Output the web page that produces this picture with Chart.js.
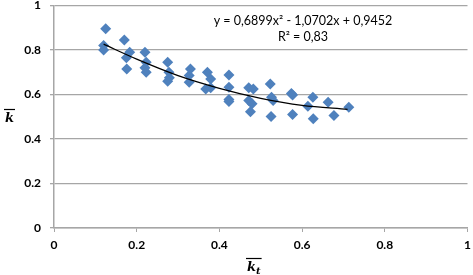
<!DOCTYPE html>
<html>
<head>
<meta charset="utf-8">
<script src="https://cdn.jsdelivr.net/npm/chart.js@4/dist/chart.umd.min.js"></script>
<style>
  html, body { margin: 0; padding: 0; background: #fff; }
</style>
</head>
<body>
<canvas id="chart-1" width="473" height="275"></canvas>
<script>
// observed points (kt mean, k mean)
var ktValues = [0.125, 0.12, 0.12, 0.17, 0.183, 0.175, 0.176, 0.22, 0.223, 0.22, 0.223,
    0.275, 0.278, 0.279, 0.275, 0.33, 0.327, 0.327, 0.371, 0.379, 0.367, 0.379,
    0.423, 0.423, 0.423, 0.423, 0.471, 0.482, 0.471, 0.479, 0.475,
    0.523, 0.526, 0.530, 0.525, 0.574, 0.577, 0.577, 0.626, 0.614, 0.627,
    0.663, 0.677, 0.713];
var kValues = [0.895, 0.82, 0.80, 0.845, 0.79, 0.765, 0.715, 0.79, 0.745, 0.72, 0.70,
    0.745, 0.70, 0.675, 0.66, 0.715, 0.685, 0.655, 0.70, 0.67, 0.625, 0.63,
    0.688, 0.633, 0.578, 0.568, 0.63, 0.625, 0.573, 0.558, 0.523,
    0.647, 0.588, 0.573, 0.501, 0.605, 0.598, 0.51, 0.588, 0.547, 0.491,
    0.565, 0.506, 0.543];

// trend line
var trendX = [0.12, 0.2, 0.3, 0.4, 0.5, 0.6, 0.71];
var trendY = [0.826, 0.759, 0.685, 0.628, 0.583, 0.551, 0.533];

var equationLines = ['y = 0,6899x\u00b2 - 1,0702x + 0,9452', 'R\u00b2 = 0,83'];
var axisTicks = [0, 0.2, 0.4, 0.6, 0.8, 1];

var scatterData = [], trendData = [];
ktValues.forEach(function (v, i) { scatterData.push({x: v, y: kValues[i]}); });
trendX.forEach(function (v, i) { trendData.push({x: v, y: trendY[i]}); });

var gridGray = '#a6a6a6';
var tickFont = { family: 'Lato, "Open Sans", sans-serif', size: 12, weight: 'bold' };

// draws the equation and the overlined axis titles
var labelsPlugin = {
    id: 'labels',
    afterDraw: function (chart) {
        var ctx = chart.ctx;
        ctx.save();
        ctx.fillStyle = '#000';
        ctx.font = '12.5px Lato, "Open Sans", sans-serif';
        ctx.textAlign = 'center';
        ctx.textBaseline = 'middle';
        ctx.fillText(equationLines[0], 303, 21);
        ctx.fillText(equationLines[1], 303, 37);

        // y title: k with bar
        ctx.font = 'bold italic 13px "DejaVu Serif", serif';
        ctx.textAlign = 'left';
        ctx.textBaseline = 'alphabetic';
        var yx = 5, yy = 122;
        ctx.fillText('k', yx, yy);
        var wk = ctx.measureText('k').width;
        ctx.strokeStyle = '#000';
        ctx.lineWidth = 1.2;
        ctx.beginPath();
        ctx.moveTo(yx - 1, yy - 12.5);
        ctx.lineTo(yx + wk + 1, yy - 12.5);
        ctx.stroke();

        // x title: k subscript t with bar
        var tx = 247, ty = 271;
        ctx.fillText('k', tx, ty);
        var wk2 = ctx.measureText('k').width;
        ctx.font = 'bold italic 10px "DejaVu Serif", serif';
        ctx.fillText('t', tx + wk2, ty + 3);
        var wt = ctx.measureText('t').width;
        ctx.beginPath();
        ctx.moveTo(tx - 1, ty - 12.5);
        ctx.lineTo(tx + wk2 + wt + 1, ty - 12.5);
        ctx.stroke();
        ctx.restore();
    }
};

function fixedTicks(scale) {
    scale.ticks = axisTicks.map(function (v) { return {value: v}; });
}

new Chart('chart-1', {
    type: 'scatter',
    data: {
        datasets: [{
            type: 'line',
            data: trendData,
            borderColor: '#000',
            borderWidth: 1.3,
            pointRadius: 0,
            cubicInterpolationMode: 'monotone',
            fill: false,
            order: 0
        }, {
            data: scatterData,
            backgroundColor: '#4f81bd',
            borderColor: '#4f81bd',
            pointStyle: 'rectRot',
            pointRadius: 5.5,
            borderWidth: 0,
            order: 1
        }]
    },
    options: {
        responsive: false,
        animation: false,
        devicePixelRatio: 1,
        layout: { padding: { top: 4.5, right: 3, left: 0, bottom: 0 } },
        plugins: {
            legend: { display: false },
            tooltip: { enabled: false }
        },
        scales: {
            x: {
                type: 'linear',
                min: 0,
                max: 1,
                afterBuildTicks: fixedTicks,
                afterFit: function (scale) {
                    scale.height = 47;
                    scale.paddingLeft = 0;
                    scale.paddingRight = 0;
                },
                grid: { drawOnChartArea: false, drawTicks: true, tickLength: 4, color: gridGray },
                border: { color: gridGray, width: 1.5 },
                ticks: {
                    color: '#000',
                    padding: 6,
                    maxRotation: 0,
                    font: tickFont,
                    callback: function (v) { return String(v); }
                }
            },
            y: {
                min: 0,
                max: 1,
                afterBuildTicks: fixedTicks,
                afterFit: function (scale) {
                    scale.width = 54;
                    scale.paddingTop = 0;
                    scale.paddingBottom = 0;
                },
                grid: { color: gridGray, lineWidth: 1.3, tickLength: 4 },
                border: { color: gridGray, width: 1.5 },
                ticks: {
                    color: '#000',
                    padding: 9,
                    font: tickFont,
                    callback: function (v) { return String(v); }
                }
            }
        }
    },
    plugins: [labelsPlugin]
});
</script>
</body>
</html>
